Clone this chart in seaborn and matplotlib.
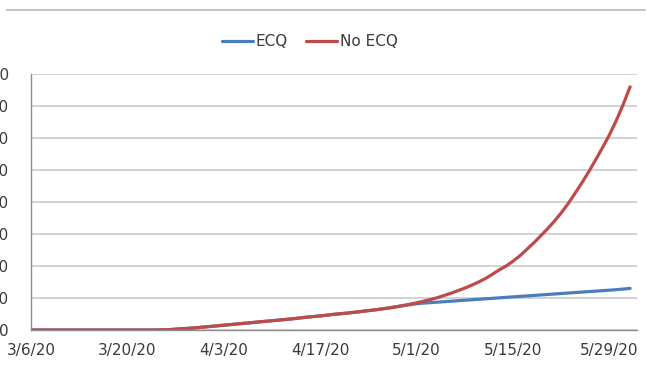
import matplotlib
matplotlib.use("Agg")
import matplotlib.pyplot as plt
from matplotlib.lines import Line2D
import seaborn as sns
import pandas as pd

# Projected cumulative cases, with and without the enhanced community quarantine
# Early period (every two days, 3/6 - 4/29): both scenarios coincide
early_dates = pd.date_range("2020-03-06", "2020-04-29", freq="2D")
early_cases = [0, 0, 0, 0, 0, 0, 0, 0, 0, 0,
               100, 400, 700, 1100, 1500, 1900, 2300, 2700, 3100, 3500,
               4000, 4400, 4900, 5300, 5800, 6300, 6900, 7600]
# Later period (daily, 5/1 - 6/1): scenarios diverge
late_dates = pd.date_range("2020-05-01", "2020-06-01", freq="D")
ecq_late = [8200, 8400, 8550, 8700, 8850, 9000, 9150, 9300, 9450, 9600,
            9750, 9900, 10050, 10200, 10350, 10500, 10650, 10800, 10950, 11100,
            11250, 11400, 11550, 11700, 11850, 12000, 12150, 12300, 12450, 12600,
            12800, 13000]
no_ecq_late = [8500, 9000, 9500, 10100, 10800, 11500, 12300, 13100, 14000, 15000,
               16100, 17400, 18800, 20000, 21500, 23200, 25200, 27200, 29400, 31600,
               34000, 36600, 39500, 42700, 46000, 49500, 53200, 57000, 61000, 65500,
               70500, 76000]
series_names = ["ECQ", "No ECQ"]
series_colors = ["#4a7ebb", "#be4b48"]
tick_dates = ["2020-03-06", "2020-03-20", "2020-04-03", "2020-04-17",
              "2020-05-01", "2020-05-15", "2020-05-29"]
y_ticks = [0, 10000, 20000, 30000, 40000, 50000, 60000, 70000, 80000]

all_dates = list(early_dates) + list(late_dates)
df = pd.concat([
    pd.DataFrame({"date": all_dates, "cases": early_cases + ecq_late, "series": series_names[0]}),
    pd.DataFrame({"date": all_dates, "cases": early_cases + no_ecq_late, "series": series_names[1]}),
])

sns.set_style("white")
plt.rcParams["font.family"] = ["DejaVu Sans"]

fig = plt.figure(figsize=(6.47, 3.71), dpi=100)
ax = fig.add_axes([31 / 647, 41 / 371, (637 - 31) / 647, (330 - 74) / 371])

sns.lineplot(data=df, x="date", y="cases", hue="series", hue_order=series_names,
             palette=series_colors, linewidth=2.3, ax=ax, legend=False)

ax.set_ylim(0, 80000)
ax.set_xlim(pd.Timestamp("2020-03-06"), pd.Timestamp("2020-06-02"))
ax.set_yticks(y_ticks)
ax.set_yticklabels([str(v) for v in y_ticks])
ticks = pd.to_datetime(tick_dates)
ax.set_xticks(ticks)
ax.set_xticklabels([f"{d.month}/{d.day}/{d.year % 100}" for d in ticks])

ax.grid(axis="y", color="#cfcfcf", linewidth=1.3)
ax.grid(axis="x", visible=False)
ax.set_axisbelow(True)
for side in ["top", "right"]:
    ax.spines[side].set_visible(False)
for side in ["left", "bottom"]:
    ax.spines[side].set_color("#8c8c8c")
    ax.spines[side].set_linewidth(1.0)

ax.tick_params(axis="y", length=2.5, width=1, color="#8c8c8c", pad=13.5,
               labelsize=11, labelcolor="#3a3a3a")
ax.tick_params(axis="x", length=2.5, width=1, color="#8c8c8c", pad=6.5,
               labelsize=11, labelcolor="#3a3a3a")
ax.set_xlabel("")
ax.set_ylabel("")

handles = [Line2D([0], [0], color=c, linewidth=2.3) for c in series_colors]
fig.legend(handles, series_names, loc="center", bbox_to_anchor=(310 / 647, 1 - 42 / 371),
           ncol=2, frameon=False, fontsize=11, handlelength=2.0, handletextpad=0.2,
           columnspacing=1.2, labelcolor="#3a3a3a")

# chart area border along the top
fig.add_artist(Line2D([7 / 647, 645 / 647], [1 - 10 / 371, 1 - 10 / 371],
                      color="#c4c4c4", linewidth=1.5, transform=fig.transFigure))

fig.savefig("out.png", dpi=100)
